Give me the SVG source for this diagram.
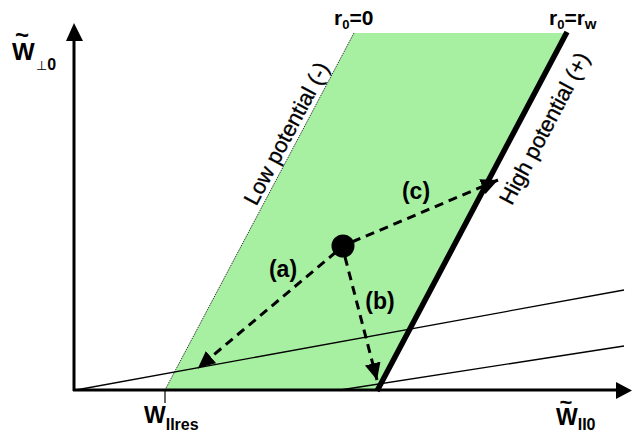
<svg xmlns="http://www.w3.org/2000/svg" width="632" height="441" viewBox="0 0 632 441">
<style>
.lbl{font-family:"Liberation Sans",Arial,sans-serif;font-weight:bold;fill:#000}
.rot{font-family:"Liberation Sans",Arial,sans-serif;font-size:22px;fill:#000;stroke:#000;stroke-width:0.3}
.axis{stroke:#000;stroke-width:3;fill:none}
.thin{stroke:#000;stroke-width:1.3;fill:none}
.dash{stroke:#000;stroke-width:3;fill:none;stroke-dasharray:9 6}
</style>
<defs>
<marker id="ah" markerUnits="userSpaceOnUse" markerWidth="20" markerHeight="18" refX="17" refY="8" orient="auto">
<path d="M0,0 L17,8 L0,16 Z" fill="#000"/>
</marker>
</defs>
<rect width="632" height="441" fill="#fff"/>
<g id="region">
<polygon points="165,390 354,33 567,33 378,390" fill="#A7F0A1"/>
<line x1="165" y1="390" x2="354" y2="33" stroke="#333" stroke-width="1" stroke-dasharray="1.5 1"/>
</g>
<g id="axes">
<line class="axis" x1="74" y1="391" x2="74" y2="40"/>
<polygon points="74,23 66,41 83,41" fill="#000"/>
<line class="axis" x1="73" y1="390" x2="617" y2="390"/>
<polygon points="632,390.5 616,382 616,399" fill="#000"/>
<line x1="165" y1="390" x2="165" y2="403" stroke="#000" stroke-width="1.2"/>
</g>
<g id="lines">
<line class="thin" x1="76" y1="390" x2="624" y2="290"/>
<line class="thin" x1="340" y1="390" x2="624" y2="346"/>
<line x1="377" y1="391" x2="567" y2="32" stroke="#000" stroke-width="5.5"/>
</g>
<g id="connectors">
<line class="dash" x1="336" y1="252" x2="198" y2="368" marker-end="url(#ah)"/>
<line class="dash" x1="345" y1="257" x2="377" y2="380" marker-end="url(#ah)"/>
<line class="dash" x1="352" y1="242" x2="498" y2="180" marker-end="url(#ah)"/>
</g>
<g id="state">
<circle cx="343" cy="246" r="11.5" fill="#000"/>
</g>
<g id="labels">
<text class="lbl" x="283" y="277" font-size="23" text-anchor="middle">(a)</text>
<text class="lbl" x="380" y="309" font-size="23" text-anchor="middle">(b)</text>
<text class="lbl" x="416" y="199" font-size="23" text-anchor="middle">(c)</text>
<text class="rot" transform="translate(293,137) rotate(-62.2)" text-anchor="middle">Low potential (-)</text>
<text class="rot" transform="translate(551,132) rotate(-62.2)" text-anchor="middle">High potential (+)</text>
<text class="lbl" x="334" y="25" font-size="21">r<tspan font-size="13" dy="4">0</tspan><tspan dy="-4">=0</tspan></text>
<text class="lbl" x="549" y="25" font-size="21">r<tspan font-size="13" dy="4">0</tspan><tspan dy="-4">=r</tspan><tspan font-size="15" dy="4">w</tspan></text>
<text class="lbl" font-size="24"><tspan x="15" y="43">~</tspan><tspan x="12" y="60">W</tspan></text>
<text x="36" y="70" font-family="DejaVu Sans,sans-serif" font-size="13">⊥<tspan class="lbl" font-family="Liberation Sans,Arial,sans-serif" font-size="16">0</tspan></text>
<text class="lbl" font-size="23"><tspan x="559.6" y="410" font-size="22">~</tspan><tspan x="556" y="425">W</tspan><tspan font-size="16" dy="5">II0</tspan></text>
<text class="lbl" x="144" y="423" font-size="23">W<tspan font-size="16" dy="7">IIres</tspan></text>
</g>
</svg>
